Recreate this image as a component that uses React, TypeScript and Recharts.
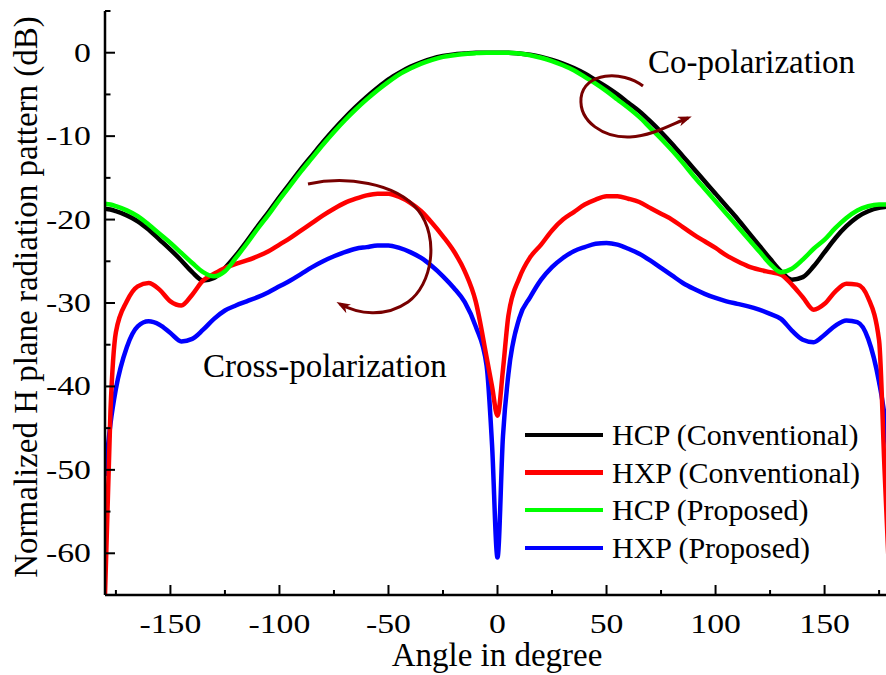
import { Legend, Line, LineChart, XAxis, YAxis } from "recharts";

// H-plane pattern, conventional vs proposed antenna (dB, normalized)
const angles = [
  -180, -177.5, -175, -170, -165, -160, -155, -150, -145, -140, -135, -130, -125, -120, -115, -110, -105,
  -100, -95, -90, -85, -80, -75, -70, -65, -60, -55, -50, -45, -40, -35, -30, -25, -20, -15, -10, -5, -2.5,
  0, 2.5, 5, 10, 15, 20, 25, 30, 35, 40, 45, 50, 55, 60, 65, 70, 75, 80, 85, 90, 95, 100, 105, 110, 115,
  120, 125, 130, 135, 140, 145, 150, 155, 160, 165, 170, 175, 177.5, 180,
];

const hcpConventional = [
  -18.7, -18.8, -19.0, -19.5, -20.2, -21.2, -22.4, -23.6, -24.9, -26.3, -27.3, -27.0, -25.8, -24.3, -22.6,
  -20.8, -19.1, -17.3, -15.6, -13.9, -12.3, -10.7, -9.2, -7.8, -6.5, -5.3, -4.2, -3.2, -2.4, -1.7, -1.15,
  -0.7, -0.4, -0.2, -0.1, 0, 0, 0, 0, 0, 0, -0.1, -0.25, -0.5, -0.85, -1.3, -1.85, -2.5, -3.3, -4.1, -5.0,
  -6.0, -7.0, -8.2, -9.5, -10.9, -12.4, -13.9, -15.4, -16.9, -18.4, -19.9, -21.5, -23.1, -24.7, -26.2,
  -27.2, -26.9, -25.6, -23.9, -22.2, -20.8, -19.7, -19.0, -18.6, -18.5, -18.4,
];

const hxpConventional = [
  -65, -43, -33.5, -29.8, -28.0, -27.6, -28.4, -29.8, -30.3, -29.0, -27.3, -26.5, -25.8, -25.3, -24.9,
  -24.4, -23.8, -23.0, -22.2, -21.3, -20.4, -19.5, -18.7, -18.0, -17.5, -17.1, -16.9, -16.9, -17.3, -18.0,
  -19.0, -20.4, -22.0, -23.8, -26.2, -29.8, -36.5, -40, -43.5, -38, -31.5, -27.0, -24.5, -23.0, -21.3,
  -20.0, -19.1, -18.2, -17.6, -17.2, -17.2, -17.5, -17.9, -18.6, -19.3, -20.0, -20.9, -21.8, -22.6,
  -23.4, -24.3, -25.0, -25.6, -26.0, -26.3, -26.6, -27.8, -29.3, -30.8, -30.1, -28.6, -27.7, -27.8,
  -29.4, -34.5, -50, -65,
];

const hcpProposed = [
  -18.1, -18.2, -18.4, -18.9, -19.6, -20.6, -21.7, -22.8, -24.0, -25.2, -26.3, -26.8, -26.2, -24.6, -22.9,
  -21.1, -19.4, -17.6, -15.9, -14.2, -12.6, -11.0, -9.5, -8.1, -6.8, -5.6, -4.5, -3.5, -2.6, -1.9, -1.3,
  -0.85, -0.5, -0.3, -0.15, -0.05, 0, 0, 0, 0, 0, -0.1, -0.3, -0.6, -1.0, -1.5, -2.1, -2.9, -3.7, -4.6,
  -5.6, -6.6, -7.7, -9.0, -10.3, -11.7, -13.2, -14.8, -16.3, -17.8, -19.3, -20.8, -22.3, -23.8, -25.3,
  -26.3, -25.9, -24.8, -23.5, -22.4, -21.0, -19.8, -18.9, -18.4, -18.2, -18.2, -18.1,
];

const hxpProposed = [
  -50.7, -44.5, -40.3, -35.3, -32.8, -32.2, -32.6, -33.6, -34.6, -34.3, -33.2, -31.9, -30.9, -30.3, -29.8,
  -29.3, -28.7, -28.0, -27.3, -26.5, -25.7, -25.0, -24.4, -23.9, -23.5, -23.3, -23.1, -23.1, -23.4, -23.9,
  -24.6, -25.6, -26.8, -28.2, -29.9, -32.8, -37.5, -47, -60.5, -46, -38.5, -31.8, -29.3, -27.2, -25.7,
  -24.6, -23.8, -23.3, -22.9, -22.8, -23.0, -23.5, -24.1, -24.9, -25.8, -26.7, -27.6, -28.3, -28.9, -29.4,
  -29.8, -30.1, -30.4, -30.8, -31.3, -31.9, -33.3, -34.4, -34.7, -33.8, -32.7, -32.1, -32.3, -34.3, -39.5,
  -43.5, -50,
];

const xTicks = [-175, -150, -125, -100, -75, -50, -25, 0, 25, 50, 75, 100, 125, 150, 175];
const yTicks = [-65, -60, -55, -50, -45, -40, -35, -30, -25, -20, -15, -10, -5, 0, 5];

const series = [
  { key: "hcpConventional", name: "HCP (Conventional)", color: "#000000" },
  { key: "hxpConventional", name: "HXP (Conventional)", color: "#ff0000" },
  { key: "hcpProposed", name: "HCP (Proposed)", color: "#00ff00" },
  { key: "hxpProposed", name: "HXP (Proposed)", color: "#0000ff" },
];

// green sits on top of everything, black underneath
const drawOrder = ["hcpConventional", "hxpProposed", "hxpConventional", "hcpProposed"];

const data = angles.map((angle, i) => ({
  angle,
  hcpConventional: hcpConventional[i],
  hxpConventional: hxpConventional[i],
  hcpProposed: hcpProposed[i],
  hxpProposed: hxpProposed[i],
}));

const serif = "'Liberation Serif', 'Times New Roman', serif";
const arrowColor = "#780000";

function BottomTick({ x, y, payload }: any) {
  const major = payload.value % 50 === 0;
  return (
    <g>
      <line x1={x} y1={y} x2={x} y2={y - (major ? 10 : 5)} stroke="#000" strokeWidth={2} />
      {major && (
        <text
          transform={`translate(${x} ${y + 38}) scale(1.25 1)`}
          textAnchor="middle"
          fontFamily={serif}
          fontSize={27}
          fill="#000"
        >
          {payload.value}
        </text>
      )}
    </g>
  );
}

function TopTick({ x, y }: any) {
  return <line x1={x} y1={y} x2={x} y2={y + 3} stroke="#000" strokeWidth={1.5} />;
}

function LeftTick({ x, y, payload }: any) {
  const v = payload.value;
  const major = v % 10 === 0 && v <= 0 && v >= -60;
  return (
    <g>
      <line x1={x} y1={y} x2={x + (major ? 10 : 5.5)} y2={y} stroke="#000" strokeWidth={2} />
      {major && (
        <text
          transform={`translate(${x - 14} ${y + 9}) scale(1.25 1)`}
          textAnchor="end"
          fontFamily={serif}
          fontSize={27}
          fill="#000"
        >
          {v}
        </text>
      )}
    </g>
  );
}

function SeriesLegend() {
  return (
    <div style={{ display: "flex", flexDirection: "column", fontFamily: serif, fontSize: 30, color: "#000" }}>
      {series.map((s) => (
        <div key={s.key} style={{ display: "flex", alignItems: "center", height: 37.7 }}>
          <span style={{ display: "inline-block", flexShrink: 0, width: 78, height: 4.5, background: s.color, marginRight: 9 }} />
          <span style={{ lineHeight: "37.7px", whiteSpace: "nowrap" }}>{s.name}</span>
        </div>
      ))}
    </div>
  );
}

export default function App() {
  return (
    <div
      style={{
        position: "absolute",
        left: 0,
        top: 0,
        width: 886,
        height: 675,
        overflow: "hidden",
        background: "#fff",
      }}
    >
      <LineChart width={900} height={675} data={data} margin={{ top: 11, right: 10, bottom: 0, left: 0 }}>
        <XAxis
          dataKey="angle"
          type="number"
          domain={[-180, 180]}
          ticks={xTicks}
          interval={0}
          height={80}
          tickSize={0}
          tickMargin={0}
          tickLine={false}
          axisLine={{ stroke: "#000", strokeWidth: 2.5 }}
          tick={<BottomTick />}
          allowDataOverflow
        />
        <XAxis
          xAxisId="top"
          orientation="top"
          dataKey="angle"
          type="number"
          domain={[-180, 180]}
          ticks={xTicks}
          interval={0}
          height={0}
          tickSize={0}
          tickMargin={0}
          tickLine={false}
          axisLine={{ stroke: "#000", strokeWidth: 2.5 }}
          tick={<TopTick />}
          allowDataOverflow
        />
        <YAxis
          type="number"
          domain={[-65, 5]}
          ticks={yTicks}
          interval={0}
          width={105}
          tickSize={0}
          tickMargin={0}
          tickLine={false}
          axisLine={{ stroke: "#000", strokeWidth: 2.5 }}
          tick={<LeftTick />}
          allowDataOverflow
        />
        {drawOrder.map((key) => {
          const s = series.find((item) => item.key === key)!;
          return (
            <Line
              key={key}
              dataKey={key}
              name={s.name}
              type="monotone"
              stroke={s.color}
              strokeWidth={4.5}
              strokeLinejoin="round"
              dot={false}
              activeDot={false}
              isAnimationActive={false}
            />
          );
        })}
        <Legend
          content={<SeriesLegend />}
          layout="vertical"
          align="center"
          verticalAlign="middle"
          wrapperStyle={{ left: 525, top: 416, width: 360 }}
        />
      </LineChart>

      <svg
        width={886}
        height={675}
        style={{ position: "absolute", left: 0, top: 0, pointerEvents: "none" }}
        fontFamily={serif}
      >
        <defs>
          <marker
            id="arrowHead"
            markerUnits="userSpaceOnUse"
            markerWidth={14}
            markerHeight={10}
            refX={10}
            refY={5}
            orient="auto"
          >
            <path d="M0,0 L14,5 L0,10 L4,5 z" fill={arrowColor} />
          </marker>
        </defs>
        <text x={497} y={666} textAnchor="middle" fontSize={33} fill="#000">
          Angle in degree
        </text>
        <text transform="translate(37 297) rotate(-90)" textAnchor="middle" fontSize={33} fill="#000">
          Normalized H plane radiation pattern (dB)
        </text>
        <text x={648} y={73} fontSize={33} fill="#000">
          Co-polarization
        </text>
        <text x={203} y={377} fontSize={33} fill="#000">
          Cross-polarization
        </text>
        <path
          d="M643,86 C622,70 584,72 581,98 C579,122 604,138 630,137 C652,136 672,124 688,118"
          stroke={arrowColor}
          strokeWidth={3}
          fill="none"
          markerEnd="url(#arrowHead)"
        />
        <path
          d="M308,184 C345,176 395,182 418,210 C440,238 432,285 408,302 C385,318 358,314 340,304"
          stroke={arrowColor}
          strokeWidth={3}
          fill="none"
          markerEnd="url(#arrowHead)"
        />
      </svg>
    </div>
  );
}
